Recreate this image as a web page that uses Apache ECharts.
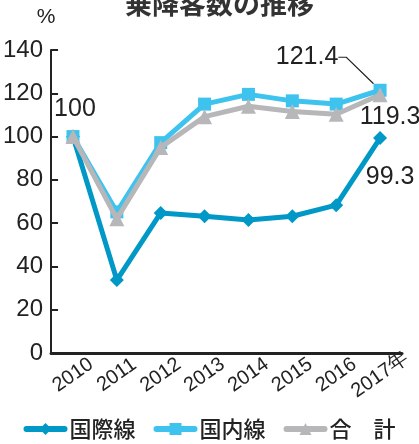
<!DOCTYPE html>
<html>
<head>
<meta charset="utf-8">
<script src="https://cdn.jsdelivr.net/npm/echarts@6/dist/echarts.min.js"></script>
<style>
  html, body { margin: 0; padding: 0; background: #fff; }
  #chart { width: 419px; height: 444px; }
</style>
</head>
<body>
<div id="chart"></div>
<script>
// Passenger index by year (2010 = 100)
const years = ['2010', '2011', '2012', '2013', '2014', '2015', '2016', '2017年'];
const international = [100, 33.7, 64.7, 63.2, 61.4, 63.2, 68.3, 99.3];
const domestic = [100, 65.2, 97.2, 115.0, 119.5, 116.5, 115.0, 121.4];
const total = [100, 62.0, 95.0, 109.2, 114.0, 111.6, 110.3, 119.3];
const yTicks = [0, 20, 40, 60, 80, 100, 120, 140];

const seriesNames = ['国際線', '国内線', '合\u3000計'];
const colors = ['#0098c6', '#3ec3ef', '#b7b7ba'];

const numFont = "'Liberation Sans Narrow', 'Arial Narrow', 'Liberation Sans', sans-serif";
const cjkFont = "'Noto Sans CJK JP', sans-serif";

const valueLabel = (extra) => Object.assign({
  show: true,
  fontFamily: numFont,
  fontSize: 25,
  color: '#222',
  formatter: (p) => String(p.value)
}, extra);

function withLabels(values, labelled) {
  return values.map((v, i) => labelled[i] ? { value: v, label: labelled[i] } : v);
}

const chart = echarts.init(document.getElementById('chart'), null, { renderer: 'canvas' });

chart.setOption({
  animation: false,
  title: {
    text: '乗降客数の推移',
    left: 120,
    top: -15,
    textStyle: { fontFamily: cjkFont, fontSize: 27, fontWeight: 'bold', color: '#333' }
  },
  legend: {
    top: 413,
    left: 'center',
    itemWidth: 38,
    itemHeight: 15,
    itemGap: 18,
    data: seriesNames,
    lineStyle: { width: 6, cap: 'round' },
    textStyle: { fontFamily: cjkFont, fontSize: 22, fontWeight: 500, color: '#222' }
  },
  grid: { left: 50, right: 17, top: 50, bottom: 91, containLabel: false },
  xAxis: {
    type: 'category',
    data: years,
    boundaryGap: true,
    axisLine: { lineStyle: { color: '#222', width: 3 } },
    axisTick: { show: false },
    axisLabel: {
      rotate: 35,
      align: 'center',
      verticalAlign: 'middle',
      margin: 22,
      interval: 0,
      fontFamily: numFont,
      fontSize: 20,
      color: '#222'
    }
  },
  yAxis: {
    type: 'value',
    min: yTicks[0],
    max: yTicks[yTicks.length - 1],
    interval: yTicks[1] - yTicks[0],
    name: '%',
    nameLocation: 'end',
    nameGap: 22,
    nameTextStyle: { fontFamily: numFont, fontSize: 21, color: '#222', align: 'center', padding: [0, 10, 0, 0] },
    axisLine: { show: true, lineStyle: { color: '#222', width: 2 } },
    axisTick: { show: true, inside: true, length: 7, lineStyle: { color: '#222', width: 2 } },
    axisLabel: { margin: 8, fontFamily: numFont, fontSize: 24, color: '#222' },
    splitLine: { show: false }
  },
  series: [
    {
      name: seriesNames[0],
      type: 'line',
      data: withLabels(international, { 7: valueLabel({ position: 'bottom', offset: [10, 15] }) }),
      symbol: 'diamond',
      symbolSize: 14,
      color: colors[0],
      lineStyle: { width: 5, color: colors[0] },
      itemStyle: { color: colors[0] },
      z: 2
    },
    {
      name: seriesNames[1],
      type: 'line',
      data: withLabels(domestic, { 7: valueLabel({ position: 'top' }) }),
      symbol: 'rect',
      symbolSize: 13,
      color: colors[1],
      lineStyle: { width: 5, color: colors[1] },
      itemStyle: { color: colors[1] },
      labelLine: { show: true, length2: 8, lineStyle: { color: '#222', width: 1.2 } },
      labelLayout: (p) => p.dataIndex === 7 ? { dx: -73, dy: -9 } : {},
      z: 3
    },
    {
      name: seriesNames[2],
      type: 'line',
      data: withLabels(total, {
        0: valueLabel({ position: 'top', offset: [2, -2] }),
        7: valueLabel({ position: 'bottom', offset: [10, -3] })
      }),
      symbol: 'triangle',
      symbolSize: 15,
      color: colors[2],
      lineStyle: { width: 5, color: colors[2] },
      itemStyle: { color: colors[2] },
      z: 4
    }
  ]
});
</script>
</body>
</html>
